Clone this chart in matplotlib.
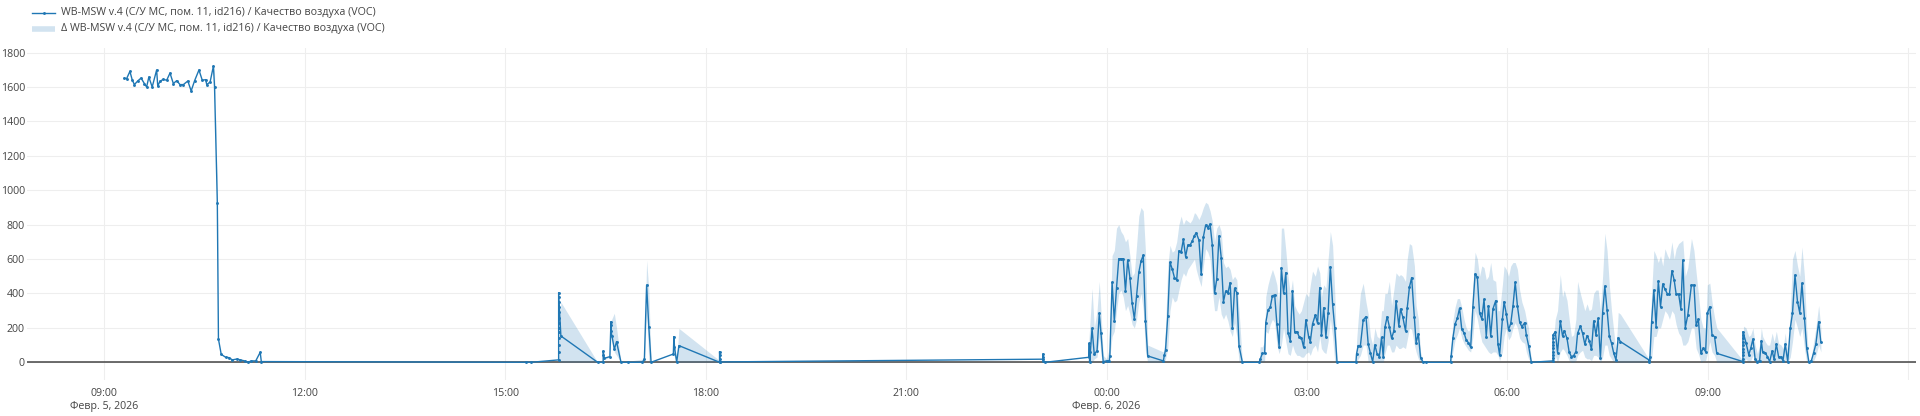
import matplotlib.pyplot as plt
import matplotlib.lines as mlines
import pandas as pd

plt.rcParams['font.family'] = ['Open Sans', 'DejaVu Sans']

# VOC readings, "day HH:MM[:SS]" of February 2026
line_times = (
    # 5 Feb, morning
    ["5 09:18", "5 09:20", "5 09:23", "5 09:25", "5 09:27", "5 09:30", "5 09:33", "5 09:36", "5 09:38", "5 09:40",
     "5 09:43", "5 09:47", "5 09:48", "5 09:50", "5 09:53", "5 09:56", "5 09:59", "5 10:02", "5 10:05", "5 10:08",
     "5 10:11", "5 10:15", "5 10:18", "5 10:21", "5 10:25", "5 10:28", "5 10:31", "5 10:32", "5 10:35", "5 10:38",
     "5 10:39", "5 10:41:30", "5 10:42:30", "5 10:45", "5 10:49", "5 10:52", "5 10:55", "5 10:59", "5 11:02", "5 11:06",
     "5 11:09", "5 11:12", "5 11:16", "5 11:20", "5 11:21"]
    # 5 Feb, afternoon / evening
    + ["5 15:18:30", "5 15:23:30"] + ["5 15:48"] * 13
    + ["5 15:50", "5 16:23", "5 16:28", "5 16:28", "5 16:28",
       "5 16:29", "5 16:34", "5 16:35", "5 16:35", "5 16:35", "5 16:36", "5 16:38", "5 16:40", "5 16:44", "5 16:50",
       "5 17:03", "5 17:05", "5 17:07", "5 17:09", "5 17:11", "5 17:31", "5 17:31:30", "5 17:32", "5 17:34", "5 17:36"]
    + ["5 18:12:30"] * 4 + ["5 18:13"] + ["5 23:03"] * 4 + ["5 23:05"]
    # night
    + ["5 23:44", "5 23:44:30", "5 23:45", "5 23:45:30", "5 23:47", "5 23:49", "5 23:51:30", "5 23:53:30", "5 23:55", "5 23:57",
       "6 00:00", "6 00:02:30", "6 00:03", "6 00:05", "6 00:07", "6 00:09", "6 00:11", "6 00:13", "6 00:15", "6 00:17",
       "6 00:19", "6 00:21", "6 00:23", "6 00:25", "6 00:27", "6 00:29", "6 00:31", "6 00:33", "6 00:35", "6 00:37",
       "6 00:51", "6 00:52", "6 00:53", "6 00:55", "6 00:57", "6 00:59", "6 01:01", "6 01:03", "6 01:05", "6 01:07",
       "6 01:09", "6 01:11", "6 01:13", "6 01:15", "6 01:17", "6 01:19", "6 01:20:30", "6 01:23", "6 01:25", "6 01:27",
       "6 01:29", "6 01:31", "6 01:33", "6 01:35", "6 01:37", "6 01:39", "6 01:41", "6 01:43", "6 01:45", "6 01:47",
       "6 01:49", "6 01:51", "6 01:53", "6 01:55", "6 01:57", "6 01:59", "6 02:02"]
    + ["6 02:17", "6 02:18", "6 02:20", "6 02:22", "6 02:23", "6 02:25", "6 02:27", "6 02:29", "6 02:31", "6 02:33",
       "6 02:35", "6 02:37", "6 02:39", "6 02:41", "6 02:43", "6 02:45", "6 02:47", "6 02:49", "6 02:51", "6 02:53",
       "6 02:55", "6 02:57", "6 02:59", "6 03:01:30", "6 03:03", "6 03:05", "6 03:07:30", "6 03:09:30", "6 03:11:30", "6 03:13",
       "6 03:15", "6 03:17", "6 03:19", "6 03:21", "6 03:23", "6 03:25", "6 03:27", "6 03:44", "6 03:44:30", "6 03:46",
       "6 03:48", "6 03:50:30", "6 03:53", "6 03:55", "6 03:57", "6 03:59", "6 04:01", "6 04:03", "6 04:05", "6 04:07",
       "6 04:08:30", "6 04:10", "6 04:12", "6 04:14", "6 04:16", "6 04:18", "6 04:20", "6 04:22:30", "6 04:24", "6 04:26",
       "6 04:28:30", "6 04:30", "6 04:32", "6 04:34", "6 04:36:30", "6 04:38", "6 04:40", "6 04:42", "6 04:44", "6 04:47"]
    + ["6 05:09", "6 05:09:30", "6 05:11", "6 05:13", "6 05:15", "6 05:17", "6 05:19", "6 05:21", "6 05:23", "6 05:25",
       "6 05:27", "6 05:29", "6 05:31", "6 05:33", "6 05:35", "6 05:37", "6 05:39", "6 05:41", "6 05:43", "6 05:45",
       "6 05:47", "6 05:49:30", "6 05:51:30", "6 05:53", "6 05:55:30", "6 05:57", "6 05:59", "6 06:01", "6 06:03", "6 06:05",
       "6 06:07", "6 06:09", "6 06:11", "6 06:13", "6 06:15:30", "6 06:17", "6 06:19", "6 06:21:30"]
    # morning
    + ["6 06:41"] * 9
    + ["6 06:43", "6 06:45", "6 06:47:30", "6 06:49:30", "6 06:51", "6 06:53:30", "6 06:55:30", "6 06:57:30", "6 06:59:30", "6 07:01:30",
       "6 07:03", "6 07:05:30", "6 07:07:30", "6 07:09:30", "6 07:11:30", "6 07:13:30", "6 07:15:30", "6 07:17:30", "6 07:19:30", "6 07:21:30",
       "6 07:23:30", "6 07:25:30", "6 07:27:30", "6 07:29:30", "6 07:31:30", "6 07:33:30", "6 07:35:30", "6 07:37:30", "6 07:39:30", "6 07:41:30"]
    + ["6 08:07", "6 08:07:30", "6 08:08", "6 08:09:30", "6 08:11:30", "6 08:13:30", "6 08:15:30", "6 08:17:30", "6 08:19:30", "6 08:21:30",
       "6 08:23:45", "6 08:25:30", "6 08:27:45", "6 08:29:45", "6 08:31:30", "6 08:33:45", "6 08:35:45", "6 08:37:30", "6 08:39:45", "6 08:42",
       "6 08:45:15", "6 08:47:30", "6 08:49:30", "6 08:51:30", "6 08:53:45", "6 08:55:45", "6 08:58", "6 08:59:30", "6 09:01:45", "6 09:03:45",
       "6 09:06", "6 09:08"]
    + ["6 09:31:30"] * 10
    + ["6 09:34:15", "6 09:36:45", "6 09:38:30", "6 09:40:30", "6 09:42:30", "6 09:44:30", "6 09:46:30", "6 09:48", "6 09:49:15", "6 09:51:30",
       "6 09:53:30", "6 09:55:30", "6 09:57:45", "6 09:59:30", "6 10:01:30", "6 10:03:30", "6 10:05:45", "6 10:07:30", "6 10:09:30", "6 10:11:45",
       "6 10:14", "6 10:16", "6 10:18:15", "6 10:20:30", "6 10:22:30", "6 10:24:30", "6 10:26:45", "6 10:28:45", "6 10:30:45", "6 10:33",
       "6 10:35", "6 10:37", "6 10:39:30", "6 10:41:30"]
)

line_voc = (
    [1652, 1648, 1691, 1643, 1614, 1635, 1652, 1620, 1600, 1658,
     1600, 1699, 1606, 1633, 1645, 1639, 1681, 1620, 1637, 1614,
     1614, 1635, 1577, 1635, 1699, 1639, 1643, 1614, 1629, 1722,
     1600, 927, 135, 46, 29, 27, 14, 19, 14, 8,
     0, 8, 8, 58, 4]
    + [0, 0, 14, 60, 100, 140, 175, 200, 230, 260, 290, 320, 350, 380, 405]
    + [153, 0, 0, 40, 66,
       23, 33, 236, 215, 180, 150, 75, 120, 0, 0,
       0, 17, 449, 203, 0, 48, 149, 90, 0, 97]
    + [0, 20, 40, 62, 2, 18, 48, 30, 5, 0]
    + [29, 110, 0, 60, 197, 46, 68, 285, 172, 4,
       8, 8, 39, 465, 240, 434, 602, 602, 602, 414,
       594, 492, 343, 252, 385, 523, 588, 623, 240, 37,
       8, 43, 72, 269, 581, 542, 492, 478, 648, 639,
       714, 614, 681, 681, 705, 736, 753, 710, 511, 730,
       797, 782, 803, 681, 401, 484, 734, 608, 352, 414,
       401, 463, 201, 430, 405, 95, 0]
    + [0, 17, 52, 52, 230, 304, 319, 387, 391, 221,
       91, 550, 401, 521, 172, 126, 416, 174, 178, 149,
       143, 87, 246, 149, 120, 223, 275, 226, 434, 159,
       317, 149, 288, 556, 339, 197, 0, 0, 48, 97,
       97, 246, 265, 106, 52, 4, 101, 48, 33, 145,
       29, 203, 265, 207, 139, 182, 358, 211, 310, 265,
       182, 314, 436, 492, 261, 114, 165, 27, 4, 0]
    + [0, 39, 139, 223, 255, 314, 192, 172, 130, 114,
       87, 323, 513, 494, 285, 252, 366, 149, 329, 153,
       310, 358, 106, 43, 250, 352, 281, 188, 226, 327,
       465, 327, 232, 207, 230, 159, 97, 0]
    + [8, 23, 43, 62, 81, 101, 120, 139, 159]
    + [178, 56, 242, 153, 184, 139, 58, 33, 39, 62,
       168, 211, 168, 105, 155, 126, 75, 240, 159, 255,
       23, 288, 443, 304, 153, 110, 52, 14, 143, 120]
    + [14, 0, 30, 236, 420, 207, 472, 323, 455, 424,
       397, 397, 532, 478, 397, 397, 310, 594, 201, 275,
       449, 449, 217, 250, 52, 81, 62, 285, 323, 159,
       149, 52]
    + [4, 20, 40, 60, 80, 100, 120, 140, 160, 178]
    + [114, 43, 81, 135, 17, 4, 10, 124, 58, 56,
       33, 4, 66, 17, 106, 33, 29, 10, 105, 4,
       197, 285, 507, 352, 288, 459, 255, 81, 0, 10,
       56, 106, 236, 116]
)

# min / max band (Δ trace)
band_times = (
    ["5 10:38", "5 10:39", "5 10:41:30", "5 10:42:30", "5 10:45", "5 15:48", "5 15:50", "5 16:23", "5 16:34", "5 16:35",
     "5 16:38", "5 16:40", "5 16:44", "5 17:05", "5 17:07", "5 17:09", "5 17:11", "5 17:31", "5 17:31:30", "5 17:34",
     "5 17:36", "5 18:12:30", "5 18:13", "5 23:43"]
    + ["5 23:44", "5 23:47", "5 23:49", "5 23:51:30", "5 23:53:30", "5 23:55", "5 23:57", "6 00:00", "6 00:02:30", "6 00:05",
       "6 00:07", "6 00:09", "6 00:11", "6 00:13", "6 00:15", "6 00:17", "6 00:19", "6 00:21", "6 00:23", "6 00:25",
       "6 00:27", "6 00:29", "6 00:31", "6 00:33", "6 00:35", "6 00:37", "6 00:51", "6 00:52", "6 00:53", "6 00:55",
       "6 00:57", "6 00:59", "6 01:01", "6 01:03", "6 01:05", "6 01:07", "6 01:09", "6 01:11", "6 01:13", "6 01:15",
       "6 01:17", "6 01:19", "6 01:20:30", "6 01:23", "6 01:25", "6 01:27", "6 01:29", "6 01:31", "6 01:33", "6 01:35",
       "6 01:37", "6 01:39", "6 01:41", "6 01:43", "6 01:45", "6 01:47", "6 01:49", "6 01:51", "6 01:53", "6 01:55",
       "6 01:57", "6 01:59", "6 02:02"]
    + ["6 02:17", "6 02:18", "6 02:20", "6 02:22", "6 02:23", "6 02:25", "6 02:27", "6 02:29", "6 02:31", "6 02:33",
       "6 02:35", "6 02:37", "6 02:39", "6 02:41", "6 02:43", "6 02:45", "6 02:47", "6 02:49", "6 02:51", "6 02:53",
       "6 02:55", "6 02:57", "6 02:59", "6 03:01:30", "6 03:03", "6 03:05", "6 03:07:30", "6 03:09:30", "6 03:11:30", "6 03:13",
       "6 03:15", "6 03:17", "6 03:19", "6 03:21", "6 03:23", "6 03:25", "6 03:27", "6 03:44", "6 03:44:30", "6 03:46",
       "6 03:48", "6 03:50:30", "6 03:53", "6 03:55", "6 03:57", "6 03:59", "6 04:01", "6 04:03", "6 04:05", "6 04:07",
       "6 04:08:30", "6 04:10", "6 04:12", "6 04:14", "6 04:16", "6 04:18", "6 04:20", "6 04:22:30", "6 04:24", "6 04:26",
       "6 04:28:30", "6 04:30", "6 04:32", "6 04:34", "6 04:36:30", "6 04:38", "6 04:40", "6 04:42", "6 04:44", "6 04:47"]
    + ["6 05:09", "6 05:09:30", "6 05:11", "6 05:13", "6 05:15", "6 05:17", "6 05:19", "6 05:21", "6 05:23", "6 05:25",
       "6 05:27", "6 05:29", "6 05:31", "6 05:33", "6 05:35", "6 05:37", "6 05:39", "6 05:41", "6 05:43", "6 05:45",
       "6 05:47", "6 05:49:30", "6 05:51:30", "6 05:53", "6 05:55:30", "6 05:57", "6 05:59", "6 06:01", "6 06:03", "6 06:05",
       "6 06:07", "6 06:09", "6 06:11", "6 06:13", "6 06:15:30", "6 06:17", "6 06:19", "6 06:21:30"]
    + ["6 06:41", "6 06:42",
       "6 06:43", "6 06:45", "6 06:47:30", "6 06:49:30", "6 06:51", "6 06:53:30", "6 06:55:30", "6 06:57:30", "6 06:59:30", "6 07:01:30",
       "6 07:03", "6 07:05:30", "6 07:07:30", "6 07:09:30", "6 07:11:30", "6 07:13:30", "6 07:15:30", "6 07:17:30", "6 07:19:30", "6 07:21:30",
       "6 07:23:30", "6 07:25:30", "6 07:27:30", "6 07:29:30", "6 07:31:30", "6 07:33:30", "6 07:35:30", "6 07:37:30", "6 07:39:30", "6 07:41:30"]
    + ["6 08:07",
       "6 08:09:30", "6 08:11:30", "6 08:13:30", "6 08:15:30", "6 08:17:30", "6 08:19:30", "6 08:21:30",
       "6 08:23:45", "6 08:25:30", "6 08:27:45", "6 08:29:45", "6 08:31:30", "6 08:33:45", "6 08:35:45", "6 08:37:30", "6 08:39:45", "6 08:42",
       "6 08:45:15", "6 08:47:30", "6 08:49:30", "6 08:51:30", "6 08:53:45", "6 08:55:45", "6 08:58", "6 08:59:30", "6 09:01:45", "6 09:03:45",
       "6 09:06", "6 09:08"]
    + ["6 09:31:30", "6 09:32",
       "6 09:34:15", "6 09:36:45", "6 09:38:30", "6 09:40:30", "6 09:42:30", "6 09:44:30", "6 09:46:30", "6 09:48", "6 09:49:15", "6 09:51:30",
       "6 09:53:30", "6 09:55:30", "6 09:57:45", "6 09:59:30", "6 10:01:30", "6 10:03:30", "6 10:05:45", "6 10:07:30", "6 10:09:30", "6 10:11:45",
       "6 10:14", "6 10:16", "6 10:18:15", "6 10:20:30", "6 10:22:30", "6 10:24:30", "6 10:26:45", "6 10:28:45", "6 10:30:45", "6 10:33",
       "6 10:35", "6 10:37", "6 10:39:30", "6 10:41:30"]
)

band_lo = (
    [1722, 1600, 880, 135, 46, 14, 0, 0, 30, 150, 60, 40, 0, 0, 300, 0, 0, 48, 40, 0, 0, 0, 0, 0]
    + [0, 0, 20, 30, 150, 40, 0, 0, 0, 150, 180, 300, 400, 420, 380, 300, 330, 280, 220, 200,
       250, 350, 400, 300, 60, 0, 0, 0, 20, 80, 300, 380, 350, 360, 420, 480, 520, 500, 540, 560,
       580, 600, 540, 480, 440, 560, 660, 640, 600, 420, 300, 300, 380, 280, 250, 280, 240, 180, 150, 230,
       150, 0, 0]
    + [0, 0, 0, 10, 180, 168, 220, 250, 230, 100, 50, 100, 200, 120, 50, 40, 100, 60, 40, 40,
       30, 30, 50, 60, 40, 80, 100, 60, 150, 80, 60, 50, 120, 250, 150, 0, 0, 0, 0, 20,
       40, 100, 100, 0, 0, 0, 0, 0, 0, 0, 0, 50, 100, 100, 60, 60, 100, 80, 80, 90,
       80, 130, 200, 190, 100, 60, 20, 0, 0, 0]
    + [0, 0, 60, 130, 160, 200, 140, 110, 90, 70, 60, 150, 300, 250, 180, 120, 100, 80, 60, 50,
       60, 60, 40, 10, 60, 150, 200, 130, 150, 200, 230, 200, 140, 120, 110, 60, 20, 0]
    + [0, 0, 40, 0, 60, 80, 70, 40, 10, 0, 0, 10, 40, 60, 70, 30, 20, 20, 10, 40, 40, 30,
       0, 30, 100, 100, 40, 20, 0, 0, 0, 0]
    + [0, 20, 150, 150, 200, 200, 250, 300, 280, 250, 300, 280, 220, 170, 150, 100, 100, 120,
       200, 200, 80, 50, 0, 10, 10, 50, 120, 60, 40, 0]
    + [0, 0, 20, 0, 10, 40, 0, 0, 0, 10, 10, 0, 0, 0, 0, 0, 0, 0, 0, 0, 0, 0,
       30, 120, 250, 200, 150, 200, 80, 0, 0, 0, 10, 40, 100, 60]
)

band_hi = (
    [1722, 1680, 1000, 135, 46, 14, 350, 0, 40, 240, 285, 200, 0, 20, 594, 420, 0, 48, 150, 0, 197, 10, 0, 0]
    + [110, 430, 200, 300, 470, 300, 40, 20, 80, 620, 650, 780, 800, 760, 740, 700, 720, 620, 500, 520,
       680, 850, 900, 880, 640, 100, 60, 100, 200, 560, 680, 640, 650, 700, 800, 850, 800, 830, 820, 810,
       830, 870, 860, 830, 860, 900, 930, 920, 880, 820, 700, 780, 800, 760, 580, 550, 560, 540, 480, 500,
       480, 300, 0]
    + [0, 90, 90, 120, 381, 450, 500, 540, 500, 450, 300, 780, 780, 650, 500, 400, 480, 330, 300, 280,
       300, 350, 400, 380, 450, 530, 500, 560, 520, 380, 450, 430, 600, 760, 680, 400, 0, 0, 120, 250,
       400, 460, 350, 280, 150, 100, 200, 150, 140, 300, 300, 400, 400, 470, 330, 420, 520, 500, 510, 500,
       470, 600, 690, 680, 560, 330, 250, 60, 10, 0]
    + [0, 80, 240, 320, 370, 370, 320, 250, 200, 180, 200, 450, 640, 600, 500, 560, 550, 480, 500, 580,
       480, 470, 300, 300, 450, 560, 540, 500, 560, 580, 580, 540, 420, 350, 300, 250, 200, 0]
    + [8, 180, 250, 300, 510, 380, 420, 360, 250, 150, 160, 250, 470, 400, 350, 300, 340, 300, 310, 400, 420, 420,
       300, 500, 750, 650, 450, 300, 180, 60, 290, 280]
    + [20, 400, 650, 620, 580, 620, 560, 660, 620, 600, 700, 600, 660, 690, 700, 710, 500, 550,
       720, 650, 520, 400, 250, 200, 200, 450, 460, 350, 260, 200]
    + [10, 210, 200, 150, 160, 200, 100, 50, 100, 200, 150, 120, 100, 100, 170, 120, 180, 110, 100, 80, 170, 50,
       300, 600, 650, 560, 500, 670, 500, 200, 0, 30, 120, 200, 330, 200]
)

assert len(line_times) == len(line_voc), (len(line_times), len(line_voc))
assert len(band_times) == len(band_lo) == len(band_hi), (len(band_times), len(band_lo), len(band_hi))

tick_times = ["5 09:00", "5 12:00", "5 15:00", "5 18:00", "5 21:00",
              "6 00:00", "6 03:00", "6 06:00", "6 09:00", "6 12:00"]
tick_labels = ["09:00\nФевр. 5, 2026", "12:00", "15:00", "18:00", "21:00",
               "00:00\nФевр. 6, 2026", "03:00", "06:00", "09:00", ""]
y_ticks = [0, 200, 400, 600, 800, 1000, 1200, 1400, 1600, 1800]

label_main = "WB-MSW v.4 (С/У МС, пом. 11, id216) / Качество воздуха (VOC)"
label_band = "Δ WB-MSW v.4 (С/У МС, пом. 11, id216) / Качество воздуха (VOC)"


def ts(s):
    day, hm = s.split()
    return pd.Timestamp(f"2026-02-0{day} {hm}")


lt = [ts(s) for s in line_times]
bt = [ts(s) for s in band_times]

blue = '#1f77b4'
band_col = (31 / 255, 119 / 255, 180 / 255, 0.2)
txt = '#444444'
fs = 7.65
W, H = 1920, 416

fig = plt.figure(figsize=(19.2, 4.16), dpi=100)
ax = fig.add_axes([27 / W, 36 / H, 1889 / W, 331.7 / H])

ax.fill_between(bt, band_lo, band_hi, color=band_col, lw=0, zorder=2)
ax.plot(lt, line_voc, color=blue, lw=1.0, marker='o', ms=2.1, mew=0, zorder=3)

ax.set_xlim(ts("5 07:50:35"), ts("6 12:06:55"))
ax.set_ylim(-103, 1825)
ax.set_xticks([ts(s) for s in tick_times])
ax.set_xticklabels(tick_labels, linespacing=1.2)
ax.set_yticks(y_ticks)
ax.set_yticklabels([str(v) for v in y_ticks])

for sp in ax.spines.values():
    sp.set_visible(False)
ax.tick_params(axis='both', length=0, labelsize=fs, labelcolor=txt)
ax.tick_params(axis='x', pad=6)
ax.tick_params(axis='y', pad=1.5)
ax.grid(True, color='#eeeeee', lw=0.75, zorder=0)
ax.set_axisbelow(True)
ax.axhline(0, color=txt, lw=1.1, zorder=1)

# legend, laid out like the plotly one (top-left, above the plot)
y1, y2 = 1 - 13 / H, 1 - 29 / H
x0, x1, xt = 32 / W, 55 / W, 61 / W
fig.add_artist(mlines.Line2D([x0, x1], [y1, y1], transform=fig.transFigure, color=blue, lw=1.0))
fig.add_artist(mlines.Line2D([(x0 + x1) / 2], [y1], transform=fig.transFigure, color=blue,
                             marker='o', ms=2.1, mew=0, lw=0))
fig.add_artist(mlines.Line2D([x0, x1], [y2, y2], transform=fig.transFigure, color=band_col, lw=4,
                             solid_capstyle='butt'))
fig.text(xt, y1, label_main, fontsize=fs, color=txt, va='center', ha='left')
fig.text(xt, y2, label_band, fontsize=fs, color=txt, va='center', ha='left')

fig.savefig("out.png", dpi=100)
